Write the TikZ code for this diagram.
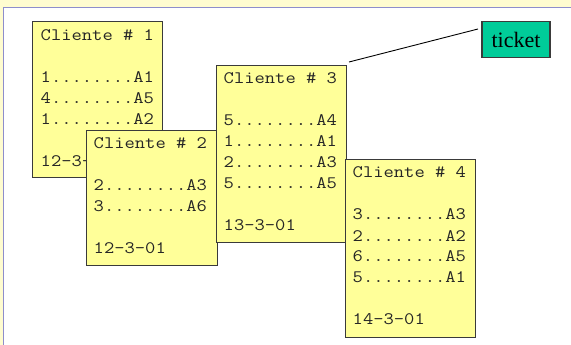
\documentclass[tikz,border=0pt]{standalone}
\usepackage{fontspec}
\newfontfamily\cour{Latin Modern Mono}[FakeStretch=1.143]
\newfontfamily\tms{Liberation Serif}
\definecolor{cardfill}{HTML}{FFFF99}
\definecolor{cardline}{HTML}{3A3A3A}
\definecolor{bgcream}{HTML}{FFFCD0}
\definecolor{frameblue}{HTML}{8E8ECC}
\definecolor{ticketgreen}{HTML}{00CC99}
\tikzset{
  card/.style={draw=cardline, line width=1.3pt, fill=cardfill, anchor=north west, inner sep=0pt},
  cardtext/.style={anchor=base west, inner sep=0pt, text=black!85, font=\cour\fontsize{17.5}{21}\selectfont},
  ticketbox/.style={draw=cardline, line width=1.2pt, fill=ticketgreen, inner sep=0pt, font=\tms\fontsize{22}{24}\selectfont},
  link/.style={draw=black, line width=0.9pt}
}
\newcommand{\cardlines}[1]{\parbox[t]{125pt}{\baselineskip=21pt #1}}
\begin{document}
\begin{tikzpicture}[x=1pt,y=-1pt]
  \useasboundingbox (0,0) rectangle (571,345);
  \fill[bgcream] (0,0) rectangle (571,345);
  \fill[white] (3.5,7.5) rectangle (571,345);
  \draw[frameblue, line width=1.4pt] (3.5,345) -- (3.5,7.5) -- (571,7.5);

  % card 1
  \node[card, minimum width=130pt, minimum height=156pt] (c1) at (32,21) {};
  \node[cardtext] (t1) at (40.5,41) {\cardlines{Cliente \# 1\\ \strut\\ 1........A1\\ 4........A5\\ 1........A2\\ \strut\\ 12-3-01}};
  % card 2
  \node[card, minimum width=131pt, minimum height=135pt] (c2) at (86,130) {};
  \node[cardtext] (t2) at (93.5,149) {\cardlines{Cliente \# 2\\ \strut\\ 2........A3\\ 3........A6\\ \strut\\ 12-3-01}};
  % card 3
  \node[card, minimum width=130pt, minimum height=177pt] (c3) at (216,65) {};
  \node[cardtext] (t3) at (223.5,84) {\cardlines{Cliente \# 3\\ \strut\\ 5........A4\\ 1........A1\\ 2........A3\\ 5........A5\\ \strut\\ 13-3-01}};
  % card 4
  \node[card, minimum width=130pt, minimum height=178pt] (c4) at (345,158.5) {};
  \node[cardtext] (t4) at (352.5,178) {\cardlines{Cliente \# 4\\ \strut\\ 3........A3\\ 2........A2\\ 6........A5\\ 5........A1\\ \strut\\ 14-3-01}};

  % ticket
  \node[ticketbox, minimum width=68pt, minimum height=36pt] (tk) at (516,39.5) {ticket};
  \coordinate (la) at (478,29);
  \coordinate (lb) at (349,62);
  \draw[link] (la) -- (lb);
\end{tikzpicture}
\end{document}
